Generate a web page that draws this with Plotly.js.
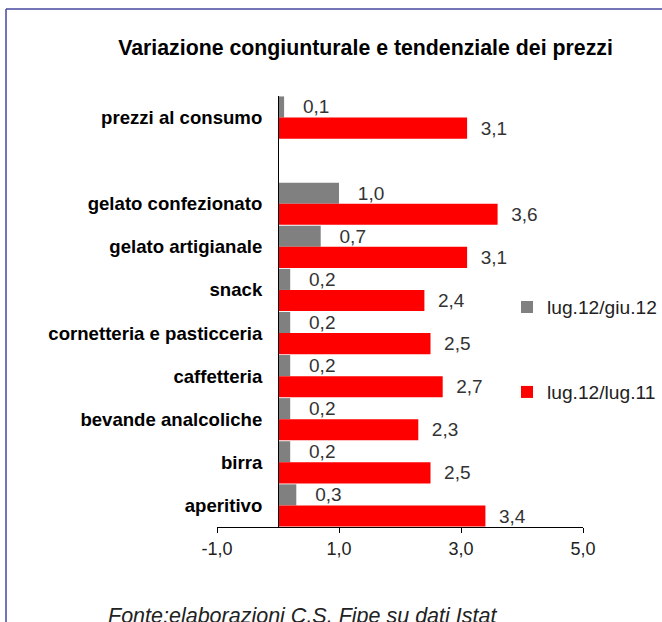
<!DOCTYPE html>
<html>
<head>
<meta charset="utf-8">
<script src="https://cdn.plot.ly/plotly-3.0.1.min.js"></script>
<style>html,body{margin:0;padding:0;background:#fff;}#chart{width:662px;height:622px;}</style>
</head>
<body>
<div id="chart"></div>
<script>
var categories = ['prezzi al consumo', ' ', 'gelato confezionato', 'gelato artigianale', 'snack',
  'cornetteria e pasticceria', 'caffetteria', 'bevande analcoliche', 'birra', 'aperitivo'];
var congiunturale = [0.1, null, 1.0, 0.7, 0.2, 0.2, 0.2, 0.2, 0.2, 0.3];   // lug.12/giu.12
var tendenziale   = [3.1, null, 3.6, 3.1, 2.4, 2.5, 2.7, 2.3, 2.5, 3.4];   // lug.12/lug.11
var seriesNames = ['lug.12/giu.12', 'lug.12/lug.11'];
var xTicks = [-1, 1, 3, 5];

function fmt(v) { return v === null ? '' : v.toFixed(1).replace('.', ','); }
function px2x(p) { return (p - 217) / 366; }
function px2y(p) { return (527 - p) / 431; }

var FONT = 'Liberation Sans, Arial, sans-serif';

var traces = [
  {
    type: 'bar', orientation: 'h', name: seriesNames[0], legendgroup: 'a',
    y: categories, x: congiunturale,
    marker: {color: '#808080'},
    text: congiunturale.map(fmt),
    texttemplate: '\u00a0\u00a0\u00a0%{text}',
    textposition: 'outside', cliponaxis: false, constraintext: 'none',
    outsidetextfont: {family: FONT, size: 19, color: '#333'},
    hoverinfo: 'skip'
  },
  {
    type: 'bar', orientation: 'h', name: seriesNames[1], legendgroup: 'b',
    y: categories, x: tendenziale,
    marker: {color: '#ff0000'},
    text: tendenziale.map(fmt),
    texttemplate: '\u00a0\u00a0%{text}',
    textposition: 'outside', cliponaxis: false, constraintext: 'none',
    outsidetextfont: {family: FONT, size: 19, color: '#333'},
    hoverinfo: 'skip'
  }
];

var layout = {
  width: 662, height: 622,
  margin: {l: 217, r: 79, t: 96, b: 95, autoexpand: false},
  paper_bgcolor: '#fff', plot_bgcolor: 'rgba(0,0,0,0)',
  font: {family: FONT, color: '#222'},
  barmode: 'group', bargap: 0.02, bargroupgap: 0,
  showlegend: true,
  title: {
    text: 'Variazione congiunturale e tendenziale dei prezzi',
    font: {family: FONT, size: 21.3, color: '#000', weight: 'bold'},
    xref: 'container', x: 365.5 / 662, xanchor: 'center',
    yref: 'container', y: 1 - 48 / 622, yanchor: 'middle'
  },
  xaxis: {
    range: [-1, 5], tickvals: xTicks, ticktext: xTicks.map(fmt),
    showgrid: false, zeroline: false,
    showline: true, linecolor: '#000', linewidth: 1,
    ticks: 'outside', ticklen: 5, tickcolor: '#000',
    tickfont: {family: FONT, size: 18, color: '#222'},
    fixedrange: true
  },
  yaxis: {
    type: 'category', categoryorder: 'array', categoryarray: categories,
    autorange: 'reversed',
    anchor: 'free', position: 1 / 6,
    showgrid: false, zeroline: false,
    showline: true, linecolor: '#000', linewidth: 1,
    ticks: 'outside', ticklen: 12, tickcolor: 'rgba(0,0,0,0)',
    tickfont: {family: FONT, size: 18.6, color: '#000', weight: 'bold'},
    fixedrange: true
  },
  legend: {
    x: px2x(507), xanchor: 'left', y: px2y(349.5), yanchor: 'middle',
    traceorder: 'grouped', tracegroupgap: 57,
    font: {family: FONT, size: 19.2, color: '#222'},
    bgcolor: 'rgba(0,0,0,0)'
  },
  shapes: [
    {type: 'line', xref: 'paper', yref: 'paper', x0: px2x(6), x1: px2x(680), y0: px2y(9), y1: px2y(9),
     line: {color: '#4646a0', width: 1.5}},
    {type: 'line', xref: 'paper', yref: 'paper', x0: px2x(6), x1: px2x(6), y0: px2y(9), y1: px2y(640),
     line: {color: '#4646a0', width: 1.5}}
  ],
  annotations: [
    {text: 'Fonte:elaborazioni C.S. Fipe su dati Istat', showarrow: false,
     xref: 'paper', yref: 'paper', x: px2x(106), xanchor: 'left', y: px2y(602), yanchor: 'top',
     font: {family: FONT, size: 21.5, color: '#222', style: 'italic'}}
  ]
};

Plotly.newPlot('chart', traces, layout, {displayModeBar: false, staticPlot: true});
</script>
</body>
</html>
